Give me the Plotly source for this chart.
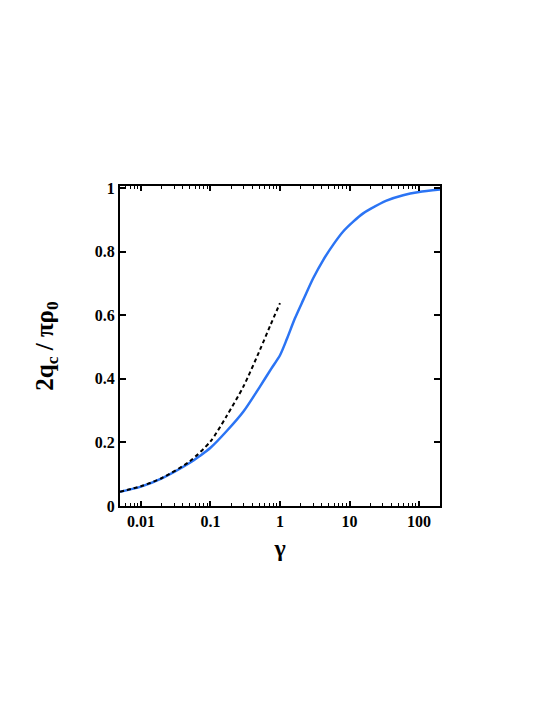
import plotly.graph_objects as go

# gamma values and normalised charge
gamma_full = [0.005, 0.01, 0.02, 0.05, 0.07, 0.1, 0.17, 0.3, 0.52, 0.75, 1.0,
              1.25, 1.64, 2.16, 3.0, 4.2, 5.8, 8.1, 11.3, 15.7, 20, 34, 59, 100, 200]
q_full = [0.045, 0.061, 0.087, 0.135, 0.157, 0.183, 0.235, 0.298, 0.377, 0.432, 0.474,
          0.524, 0.59, 0.648, 0.716, 0.774, 0.821, 0.863, 0.894, 0.92, 0.934,
          0.96, 0.977, 0.987, 0.995]

# small-gamma approximation (dashed)
gamma_approx = [0.005, 0.01, 0.02, 0.05, 0.1, 0.17, 0.3, 0.52, 0.72, 1.0]
q_approx = [0.045, 0.062, 0.088, 0.14, 0.203, 0.282, 0.377, 0.493, 0.566, 0.638]

x_ticks = [0.01, 0.1, 1, 10, 100]
x_ticktext = ['0.01', '0.1', '1', '10', '100']
y_ticks = [0, 0.2, 0.4, 0.6, 0.8, 1]
y_ticktext = ['0', '0.2', '0.4', '0.6', '0.8', '1']

FONT = 'Liberation Serif'

# minor log ticks 2..9 in each decade
minor_vals = [m * 10.0 ** d for d in range(-3, 3) for m in range(2, 10)]

fig = go.Figure()
fig.add_trace(go.Scatter(x=gamma_full, y=q_full, mode='lines',
                         line=dict(color='#2b74f4', width=2.5, shape='spline', smoothing=0.7)))
fig.add_trace(go.Scatter(x=gamma_approx, y=q_approx, mode='lines',
                         line=dict(color='black', width=2, dash='4px,3px', shape='spline', smoothing=0.7)))

fig.update_layout(
    width=545, height=705,
    margin=dict(l=112, r=113, t=178, b=207),
    paper_bgcolor='white', plot_bgcolor='white',
    showlegend=False,
    font=dict(family=FONT, color='black'),
    xaxis=dict(type='log', range=[-2.301, 2.301],
               tickvals=x_ticks, ticktext=x_ticktext,
               ticks='inside', ticklen=5, tickwidth=1.5, tickcolor='black',
               minor=dict(tickvals=minor_vals, ticks='inside', ticklen=3, tickwidth=1.2,
                          tickcolor='black', showgrid=False),
               showline=True, linewidth=2, linecolor='black', mirror='ticks',
               showgrid=False, zeroline=False,
               tickfont=dict(family=FONT, size=16, weight='bold'),
               title=dict(text='<b>γ</b>', font=dict(family=FONT, size=24), standoff=10)),
    yaxis=dict(range=[0, 1.006],
               tickvals=y_ticks, ticktext=y_ticktext,
               ticks='inside', ticklen=6, tickwidth=1.5, tickcolor='black',
               showline=True, linewidth=2, linecolor='black', mirror='ticks',
               showgrid=False, zeroline=False,
               tickfont=dict(family=FONT, size=16, weight='bold'),
               title=dict(text='<b>2q<sub>c</sub> / πρ<sub>0</sub></b>',
                          font=dict(family=FONT, size=25), standoff=34)),
)

fig.write_html("out.html")
